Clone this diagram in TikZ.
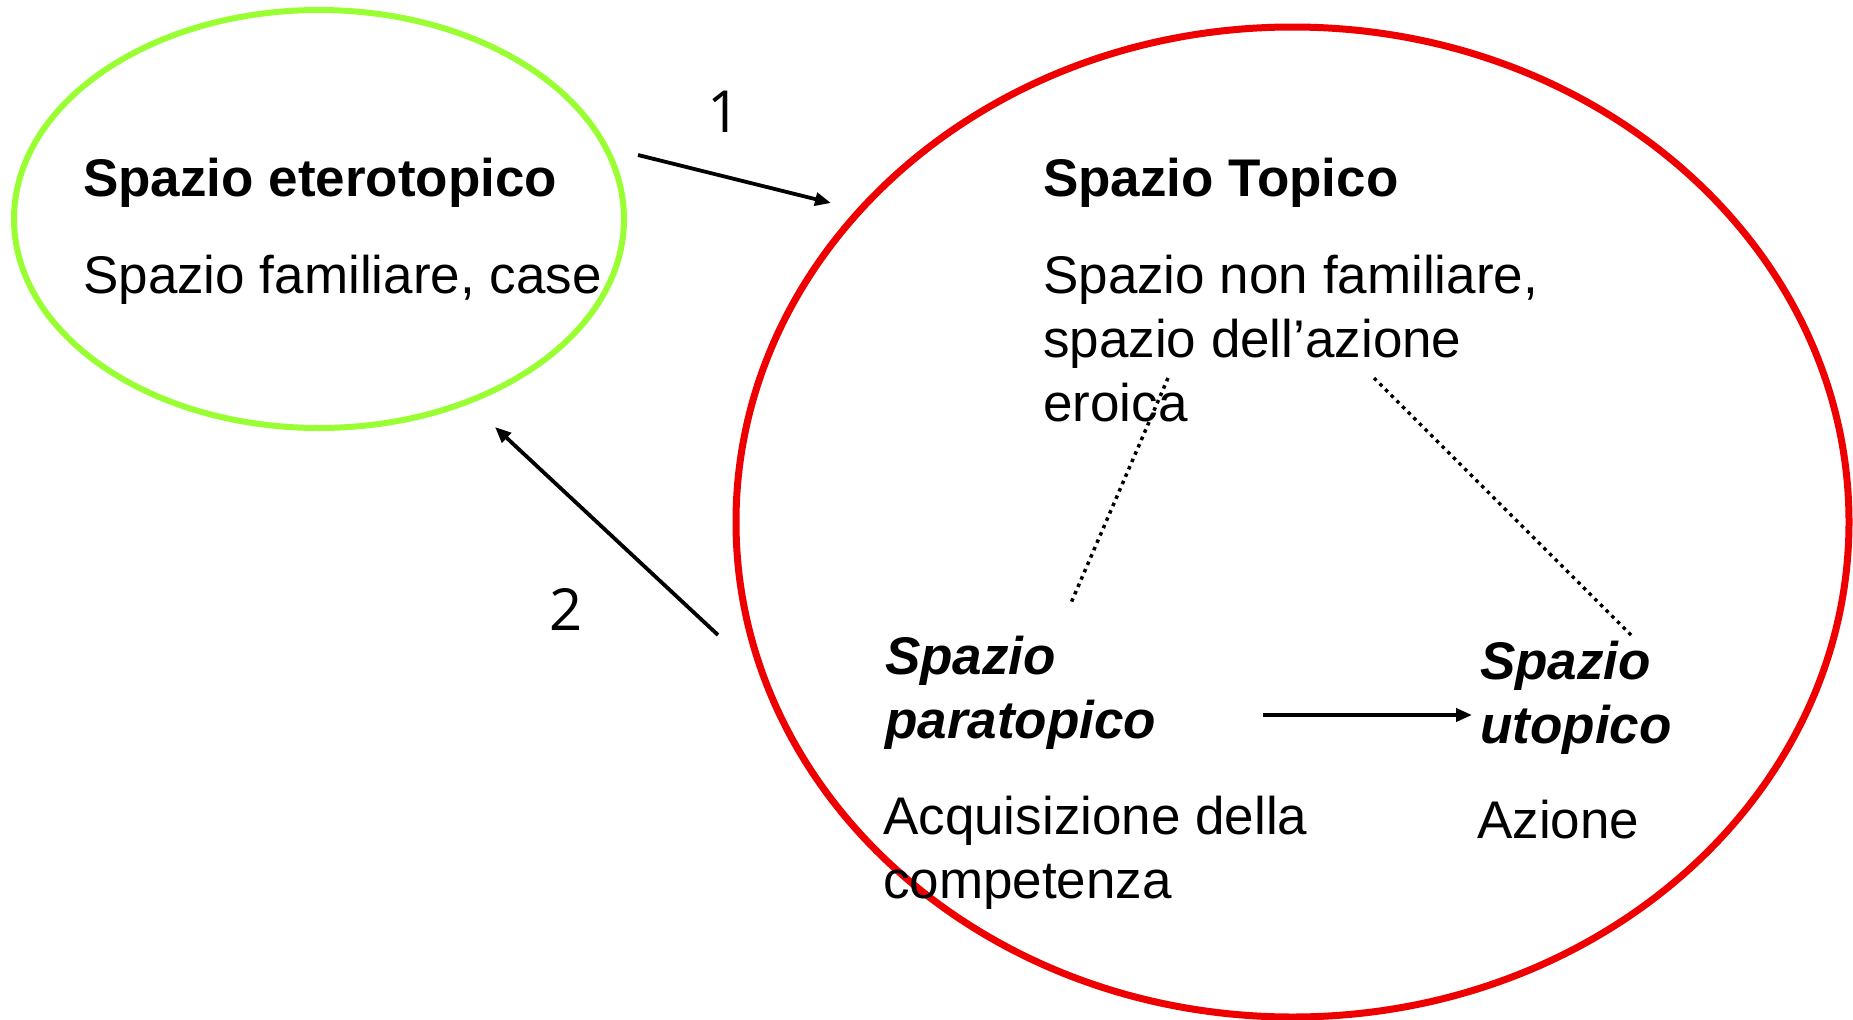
\documentclass[tikz,border=0pt]{standalone}
\usepackage{fontspec}
\setmainfont{Liberation Sans}
\newfontfamily\numfont{Open Sans}
\usetikzlibrary{shapes.geometric,arrows.meta}
\definecolor{grn}{RGB}{153,255,51}
\definecolor{rd}{RGB}{238,0,0}
\tikzset{
  txt/.style={inner sep=0pt, anchor=base west, font=\fontsize{53}{64}\selectfont, align=left},
  ttl/.style={txt, font=\fontsize{53}{64}\selectfont\bfseries},
  ttli/.style={txt, font=\fontsize{53}{64}\selectfont\bfseries\itshape},
  num/.style={inner sep=0pt, font=\numfont\fontsize{58}{64}\selectfont},
  conn/.style={line width=3.8pt, -{Triangle[length=16pt,width=13pt]}},
  dotl/.style={line width=3.5pt, dash pattern=on 3.5pt off 4.5pt}
}
\begin{document}
\begin{tikzpicture}[x=1pt,y=-1pt]
\useasboundingbox (0,0) rectangle (1853,1020);
\fill[white] (0,0) rectangle (1853,1020);
% ellipses
\node[ellipse, draw=grn, line width=6pt, minimum width=610pt, minimum height=418pt, inner sep=0pt] (het) at (319,219) {};
\node[ellipse, draw=rd, line width=7pt, minimum width=1113pt, minimum height=990pt, inner sep=0pt] (top) at (1292.5,522) {};
% texts (multi-line nodes anchored at the baseline of their last line)
\node[ttl] (hett) at (83,196) {Spazio eterotopico};
\node[txt] (hetd) at (83,293) {Spazio familiare, case};
\node[ttl] (topt) at (1043,196) {Spazio Topico};
\node[txt] (topd) at (1043,421) {Spazio non familiare,\\spazio dell’azione\\eroica};
\node[ttli] (parat) at (885,738) {Spazio\\paratopico};
\node[txt] (parad) at (883,898) {Acquisizione della\\competenza};
\node[ttli] (utot) at (1480,743) {Spazio\\utopico};
\node[txt] (utod) at (1477,838) {Azione};
\node[num] (n1) at (724,112) {1};
\node[num] (n2) at (566,609) {2};
% connector end points
\coordinate (a1s) at (638,155);
\coordinate (a1e) at (831,203);
\coordinate (a2s) at (718,635);
\coordinate (a2e) at (495,427);
\coordinate (a3s) at (1263,715);
\coordinate (a3e) at (1472,715);
\coordinate (d1s) at (1168,378);
\coordinate (d1e) at (1071,603);
\coordinate (d2s) at (1374,378);
\coordinate (d2e) at (1632,636);
% connectors
\draw[conn] (a1s) -- (a1e);
\draw[conn] (a2s) -- (a2e);
\draw[conn] (a3s) -- (a3e);
\draw[dotl] (d1s) -- (d1e);
\draw[dotl] (d2s) -- (d2e);
\end{tikzpicture}
\end{document}
